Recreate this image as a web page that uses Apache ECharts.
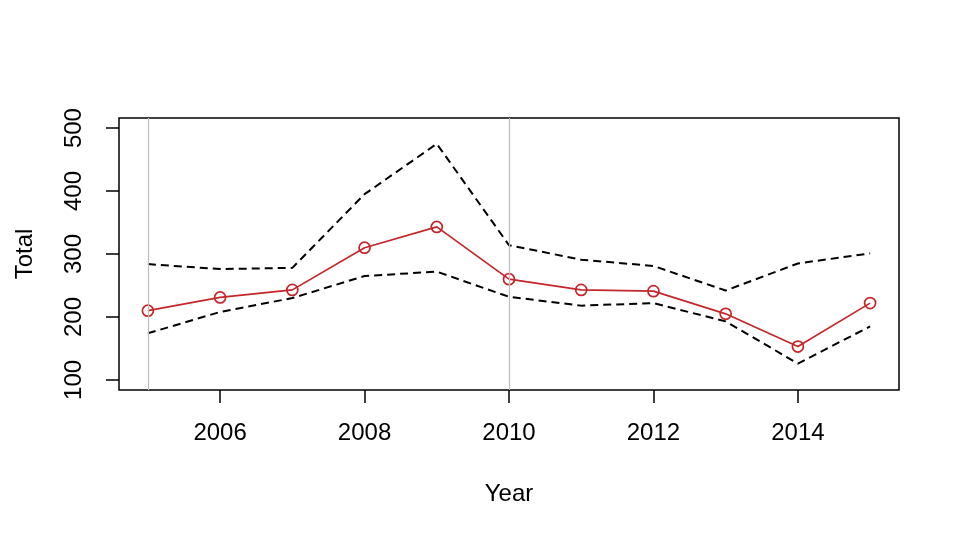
<!DOCTYPE html>
<html lang="en">
<head>
    <meta charset="UTF-8">
    <title>Total by Year</title>
    <script src="https://cdn.jsdelivr.net/npm/echarts@6/dist/echarts.min.js"></script>
    <style>
        body{
            margin: 0;
            background: #fff;
        }
    </style>
</head>
<body>
    <div id="main" style="width: 960px; height: 536px;"></div>

    <script>
        // data
        var years = [2005, 2006, 2007, 2008, 2009, 2010, 2011, 2012, 2013, 2014, 2015];
        var totals = [210, 231, 243, 310, 343, 260, 243, 241, 205, 153, 222];
        var upper = [284, 276, 278, 395, 475, 314, 291, 281, 242, 285, 301];
        var lower = [174, 208, 230, 265, 272, 232, 218, 222, 193, 126, 185];
        var xTicks = [2006, 2008, 2010, 2012, 2014];
        var yTicks = [100, 200, 300, 400, 500];
        var refYears = [2005, 2010];

        function pairs(vals) {
            return years.map(function (y, i) { return [y, vals[i]]; });
        }

        var mycharts = echarts.init(document.getElementById("main"));
        var font = 'Liberation Sans, Arial, sans-serif';
        var red = '#c4262a';

        var option = {
            animation: false,
            grid: {
                left: 119, right: 61, top: 118, bottom: 146,
                outerBoundsMode: 'none',
                containLabel: false,
                show: true,
                borderColor: '#000',
                borderWidth: 1.5
            },
            xAxis: {
                type: 'value',
                min: 2004.6,
                max: 2015.4,
                name: 'Year',
                nameLocation: 'middle',
                nameGap: 92,
                nameTextStyle: { fontFamily: font, fontSize: 24, color: '#000' },
                axisLine: { show: false },
                splitLine: { show: false },
                axisTick: {
                    customValues: xTicks,
                    length: 13,
                    lineStyle: { color: '#000', width: 1.5 }
                },
                axisLabel: {
                    customValues: xTicks,
                    formatter: function (v) { return String(v); },
                    margin: 31,
                    fontFamily: font,
                    fontSize: 24,
                    color: '#000'
                }
            },
            yAxis: {
                type: 'value',
                min: 84,
                max: 516,
                name: 'Total',
                nameLocation: 'middle',
                nameRotate: 90,
                nameGap: 82,
                nameTextStyle: { fontFamily: font, fontSize: 24, color: '#000' },
                axisLine: { show: false },
                splitLine: { show: false },
                axisTick: {
                    customValues: yTicks,
                    length: 13,
                    lineStyle: { color: '#000', width: 1.5 }
                },
                axisLabel: {
                    customValues: yTicks,
                    formatter: function (v) { return String(v); },
                    rotate: 90,
                    margin: 33,
                    fontFamily: font,
                    fontSize: 24,
                    color: '#000'
                }
            },
            series: [
                {
                    type: 'line',
                    data: pairs(upper),
                    symbol: 'none',
                    lineStyle: { color: '#000', width: 2, type: [8, 5] },
                    markLine: {
                        silent: true,
                        symbol: 'none',
                        label: { show: false },
                        lineStyle: { color: '#bebebe', width: 1.2, type: 'solid' },
                        data: refYears.map(function (y) { return { xAxis: y }; })
                    },
                    z: 3
                },
                {
                    type: 'line',
                    data: pairs(lower),
                    symbol: 'none',
                    lineStyle: { color: '#000', width: 2, type: [8, 5] },
                    z: 3
                },
                {
                    type: 'line',
                    data: pairs(totals),
                    symbol: 'circle',
                    symbolSize: 11,
                    lineStyle: { color: red, width: 1.7 },
                    itemStyle: {
                        color: 'rgba(0,0,0,0)',
                        borderColor: red,
                        borderWidth: 1.7
                    },
                    z: 4
                }
            ]
        };

        mycharts.setOption(option);
    </script>
</body>
</html>
